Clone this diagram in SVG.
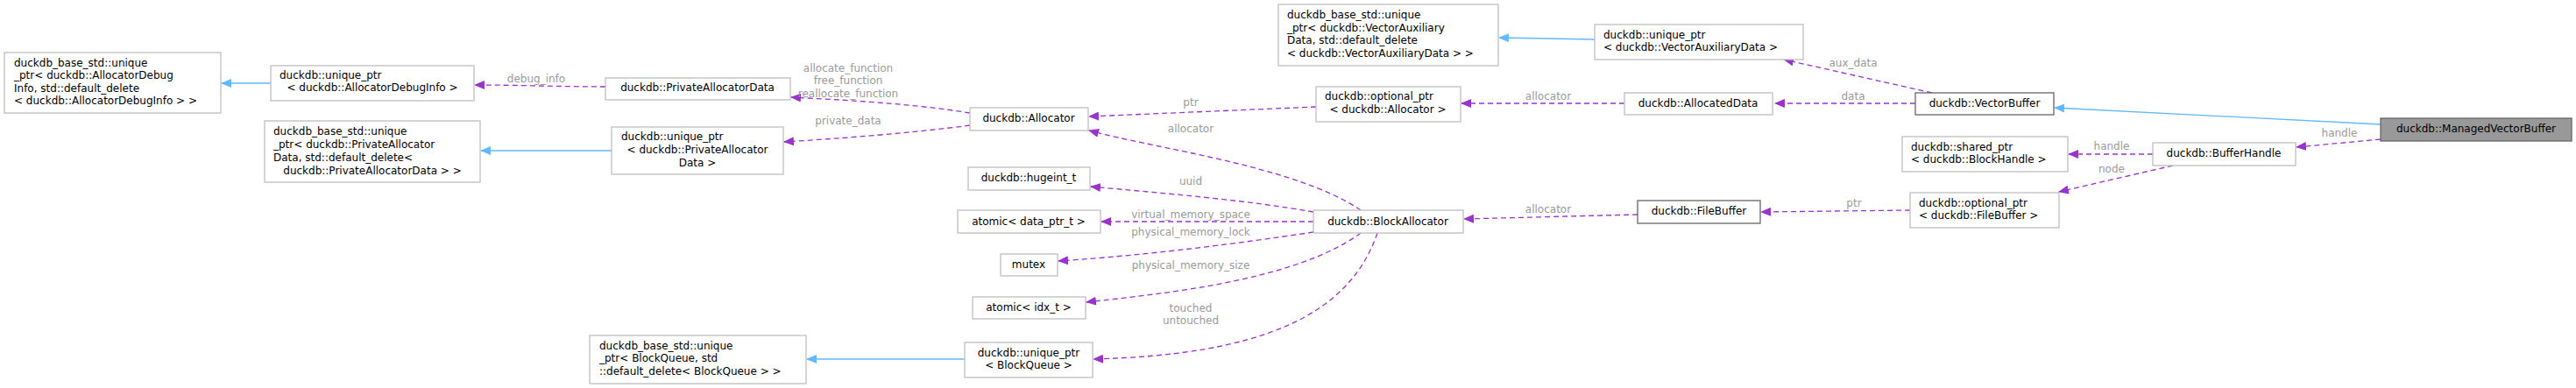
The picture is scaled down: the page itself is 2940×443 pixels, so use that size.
<svg xmlns="http://www.w3.org/2000/svg" width="2940" height="443" viewBox="0 0 2940 443">
<style>
.n rect{fill:#fff;stroke:#bfbfbf;stroke-width:1.3}
.d rect{stroke:#666}
.g rect{fill:#999;stroke:#666}
text{font-family:"DejaVu Sans",sans-serif;font-size:12px;fill:#000}
.l{fill:#9a9a9a;text-anchor:middle}
.c{text-anchor:middle}
.e{fill:none;stroke:#9a32cd;stroke-width:1.3;stroke-dasharray:6,4}
.b{fill:none;stroke:#63b8ff;stroke-width:1.3}
</style>
<defs>
<marker id="pa" markerWidth="12" markerHeight="10" refX="11" refY="5" orient="auto" markerUnits="userSpaceOnUse"><path d="M0,0 L12,5 L0,10 z" fill="#9a32cd"/></marker>
<marker id="ba" markerWidth="12" markerHeight="10" refX="11" refY="5" orient="auto" markerUnits="userSpaceOnUse"><path d="M0,0 L12,5 L0,10 z" fill="#63b8ff"/></marker>
</defs>
<g id="edges">
<path class="b" d="M309,95 L253,95" marker-end="url(#ba)"/>
<path class="e" d="M691,99 C640,99 590,97 542,97" marker-end="url(#pa)"/>
<text class="l" x="612" y="94">debug_info</text>
<path class="b" d="M698,172 L549,172" marker-end="url(#ba)"/>
<path class="b" d="M1101,410 L921,410" marker-end="url(#ba)"/>
<path class="b" d="M1820,45 L1711,43" marker-end="url(#ba)"/>
<path class="b" d="M2717,142 L2345,123" marker-end="url(#ba)"/>
<path class="e" d="M2717,159 L2621,168" marker-end="url(#pa)"/>
<text class="l" x="2670" y="156">handle</text>
<path class="e" d="M2457,176 L2361,176" marker-end="url(#pa)"/>
<text class="l" x="2410" y="171">handle</text>
<path class="e" d="M2480,189 L2350,219" marker-end="url(#pa)"/>
<text class="l" x="2410" y="197">node</text>
<path class="e" d="M2180,240 L2010,242" marker-end="url(#pa)"/>
<text class="l" x="2116" y="236">ptr</text>
<path class="e" d="M2186,118 L2026,118" marker-end="url(#pa)"/>
<text class="l" x="2115" y="114">data</text>
<path class="e" d="M2205,106 L2036,68" marker-end="url(#pa)"/>
<text class="l" x="2115" y="76">aux_data</text>
<path class="e" d="M1854,118 L1668,118" marker-end="url(#pa)"/>
<text class="l" x="1767" y="114">allocator</text>
<path class="e" d="M1502,122 L1243,133" marker-end="url(#pa)"/>
<text class="l" x="1359" y="121">ptr</text>
<path class="e" d="M1107,129 C1040,118 960,114 903,111" marker-end="url(#pa)"/>
<text class="l" x="968" y="82">allocate_function</text>
<text class="l" x="968" y="96">free_function</text>
<text class="l" x="968" y="111">reallocate_function</text>
<path class="e" d="M1107,143 C1040,152 960,158 895,162" marker-end="url(#pa)"/>
<text class="l" x="968" y="142">private_data</text>
<path class="e" d="M1869,245 L1671,250" marker-end="url(#pa)"/>
<text class="l" x="1767" y="243">allocator</text>
<path class="e" d="M1553,240 C1480,190 1320,170 1243,149" marker-end="url(#pa)"/>
<text class="l" x="1359" y="151">allocator</text>
<path class="e" d="M1499,242 C1420,228 1320,220 1245,213" marker-end="url(#pa)"/>
<text class="l" x="1359" y="211">uuid</text>
<path class="e" d="M1499,253 L1257,253" marker-end="url(#pa)"/>
<text class="l" x="1359" y="249">virtual_memory_space</text>
<path class="e" d="M1499,265 C1400,280 1300,292 1208,298" marker-end="url(#pa)"/>
<text class="l" x="1359" y="269">physical_memory_lock</text>
<path class="e" d="M1553,266 C1480,320 1330,335 1240,345" marker-end="url(#pa)"/>
<text class="l" x="1359" y="307">physical_memory_size</text>
<path class="e" d="M1572,266 C1540,360 1440,405 1248,410" marker-end="url(#pa)"/>
<text class="l" x="1359" y="356">touched</text>
<text class="l" x="1359" y="370">untouched</text>
</g>
<g id="n1" class="n"><rect x="5" y="60" width="247" height="69"/><text x="16" y="76">duckdb_base_std::unique</text><text x="16" y="90">_ptr&lt; duckdb::AllocatorDebug</text><text x="16" y="105">Info, std::default_delete</text><text x="16" y="119">&lt; duckdb::AllocatorDebugInfo &gt; &gt;</text></g>
<g id="n2" class="n"><rect x="309" y="75" width="232" height="40"/><text x="319" y="90">duckdb::unique_ptr</text><text class="c" x="425" y="104">&lt; duckdb::AllocatorDebugInfo &gt;</text></g>
<g id="n3" class="n"><rect x="691" y="89" width="211" height="25"/><text class="c" x="796" y="104">duckdb::PrivateAllocatorData</text></g>
<g id="n4" class="n"><rect x="302" y="138" width="246" height="70"/><text x="312" y="154">duckdb_base_std::unique</text><text x="312" y="169">_ptr&lt; duckdb::PrivateAllocator</text><text x="312" y="184">Data, std::default_delete&lt;</text><text class="c" x="425" y="199">duckdb::PrivateAllocatorData &gt; &gt;</text></g>
<g id="n5" class="n"><rect x="698" y="145" width="196" height="54"/><text x="709" y="160">duckdb::unique_ptr</text><text class="c" x="796" y="175">&lt; duckdb::PrivateAllocator</text><text class="c" x="796" y="190">Data &gt;</text></g>
<g id="n6" class="n"><rect x="673" y="383" width="247" height="55"/><text x="684" y="399">duckdb_base_std::unique</text><text x="684" y="413">_ptr&lt; BlockQueue, std</text><text x="684" y="428">::default_delete&lt; BlockQueue &gt; &gt;</text></g>
<g id="n7" class="n"><rect x="1459" y="5" width="251" height="70"/><text x="1469" y="21">duckdb_base_std::unique</text><text x="1469" y="36">_ptr&lt; duckdb::VectorAuxiliary</text><text x="1469" y="50">Data, std::default_delete</text><text x="1469" y="65">&lt; duckdb::VectorAuxiliaryData &gt; &gt;</text></g>
<g id="n8" class="n"><rect x="1820" y="28" width="238" height="40"/><text x="1830" y="44">duckdb::unique_ptr</text><text x="1830" y="58">&lt; duckdb::VectorAuxiliaryData &gt;</text></g>
<g id="n9" class="n"><rect x="1107" y="123" width="135" height="26"/><text class="c" x="1174" y="139">duckdb::Allocator</text></g>
<g id="n10" class="n"><rect x="1502" y="99" width="165" height="40"/><text x="1512" y="114">duckdb::optional_ptr</text><text class="c" x="1584" y="129">&lt; duckdb::Allocator &gt;</text></g>
<g id="n11" class="n"><rect x="1854" y="106" width="169" height="25"/><text class="c" x="1938" y="122">duckdb::AllocatedData</text></g>
<g id="n12" class="n"><rect x="1105" y="191" width="139" height="26"/><text class="c" x="1174" y="207">duckdb::hugeint_t</text></g>
<g id="n13" class="n"><rect x="1093" y="240" width="163" height="26"/><text class="c" x="1174" y="257">atomic&lt; data_ptr_t &gt;</text></g>
<g id="n14" class="n"><rect x="1142" y="290" width="65" height="25"/><text class="c" x="1174" y="306">mutex</text></g>
<g id="n15" class="n"><rect x="1110" y="339" width="129" height="25"/><text class="c" x="1174" y="355">atomic&lt; idx_t &gt;</text></g>
<g id="n16" class="n"><rect x="1101" y="391" width="146" height="40"/><text class="c" x="1174" y="407">duckdb::unique_ptr</text><text class="c" x="1174" y="421">&lt; BlockQueue &gt;</text></g>
<g id="n17" class="n"><rect x="1499" y="240" width="171" height="26"/><text class="c" x="1584" y="257">duckdb::BlockAllocator</text></g>
<g id="n18" class="n d"><rect x="1869" y="229" width="140" height="26"/><text class="c" x="1939" y="245">duckdb::FileBuffer</text></g>
<g id="n19" class="n d"><rect x="2186" y="106" width="158" height="25"/><text class="c" x="2265" y="122">duckdb::VectorBuffer</text></g>
<g id="n20" class="n g"><rect x="2717" y="135" width="218" height="26"/><text class="c" x="2826" y="151">duckdb::ManagedVectorBuffer</text></g>
<g id="n21" class="n"><rect x="2457" y="163" width="163" height="26"/><text class="c" x="2538" y="179">duckdb::BufferHandle</text></g>
<g id="n22" class="n"><rect x="2171" y="156" width="189" height="40"/><text x="2181" y="172">duckdb::shared_ptr</text><text x="2181" y="186">&lt; duckdb::BlockHandle &gt;</text></g>
<g id="n23" class="n"><rect x="2180" y="220" width="170" height="40"/><text x="2190" y="236">duckdb::optional_ptr</text><text x="2190" y="250">&lt; duckdb::FileBuffer &gt;</text></g>
</svg>
